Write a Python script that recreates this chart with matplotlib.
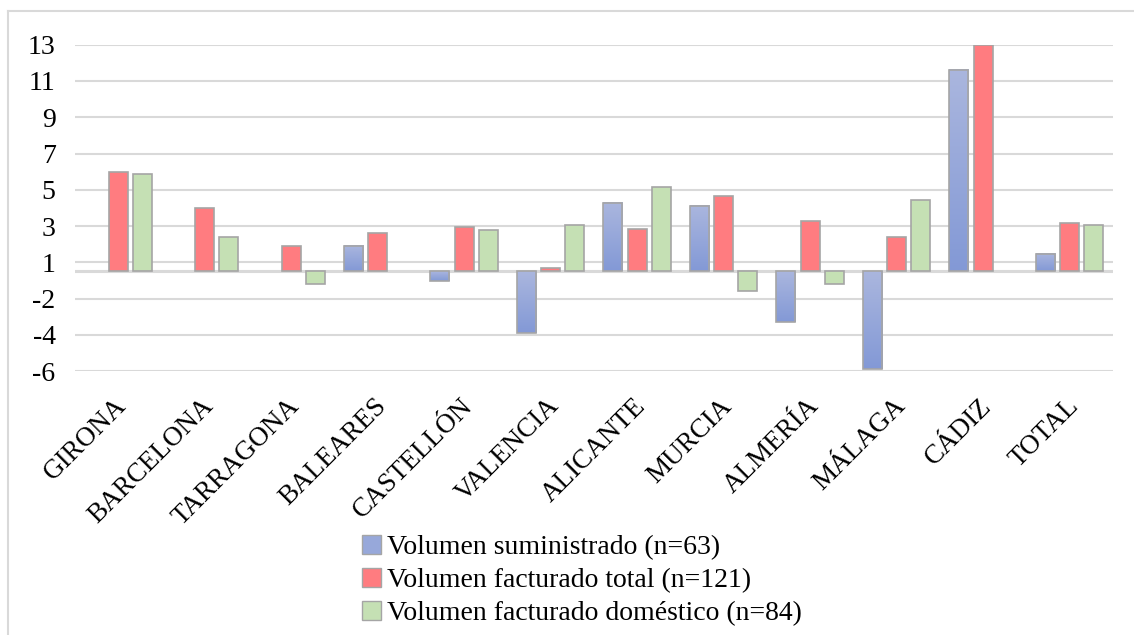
import numpy as np
import matplotlib.pyplot as plt
from matplotlib.patches import Patch
from matplotlib.lines import Line2D
from matplotlib.transforms import ScaledTranslation

# --- data
provincias = ['GIRONA', 'BARCELONA', 'TARRAGONA', 'BALEARES', 'CASTELLÓN', 'VALENCIA',
              'ALICANTE', 'MURCIA', 'ALMERÍA', 'MÁLAGA', 'CÁDIZ', 'TOTAL']
suministrado = [np.nan, np.nan, np.nan, 1.4, -0.55, -3.4, 3.8, 3.6, -2.8, -5.35, 11.1, 0.95]
fact_total = [5.5, 3.5, 1.4, 2.1, 2.45, 0.22, 2.35, 4.15, 2.8, 1.9, 12.5, 2.65]
fact_domestico = [5.4, 1.9, -0.7, np.nan, 2.3, 2.55, 4.65, -1.05, -0.7, 3.95, np.nan, 2.55]
series_labels = ['Volumen suministrado (n=63)',
                 'Volumen facturado total (n=121)',
                 'Volumen facturado doméstico (n=84)']
grid_vals = np.arange(-5.5, 12.6, 2.0)

plt.rcParams['font.family'] = ['Liberation Serif', 'DejaVu Serif']

fig = plt.figure(figsize=(11.34, 6.35), dpi=100)
ax = fig.add_axes([0.0661, 0.4153, 0.9153, 0.5143])

x = np.arange(len(provincias))
w = 0.22
off = 0.28
edge = '#a5a5a5'
red = '#ff7c80'
green = '#c5e0b4'
blue_top = np.array([0.667, 0.714, 0.871])
blue_bot = np.array([0.514, 0.600, 0.839])

ax.bar(x, fact_total, w, color=red, edgecolor=edge, linewidth=1.2, zorder=3)
ax.bar(x + off, fact_domestico, w, color=green, edgecolor=edge, linewidth=1.2, zorder=3)
bb = ax.bar(x - off, suministrado, w, facecolor='none', edgecolor=edge, linewidth=1.2, zorder=4)

# gradient fill for the first series
grad = np.linspace(0, 1, 64)[:, None, None]
grad_img = blue_top * (1 - grad) + blue_bot * grad
for rect in bb:
    h = rect.get_height()
    if np.isnan(h):
        continue
    x0 = rect.get_x()
    y0, y1 = sorted([rect.get_y(), rect.get_y() + h])
    ax.imshow(grad_img, extent=(x0, x0 + w, y0, y1), origin='upper',
              aspect='auto', zorder=3, interpolation='bilinear')

ax.set_xlim(-0.5, len(provincias) - 0.5)
ax.set_ylim(-5.5, 12.5)

# gridlines, labels rounded like the spreadsheet axis
def round_half_away(v):
    return int(np.sign(v) * np.floor(abs(v) + 0.5))

ax.set_yticks(grid_vals)
ax.set_yticklabels([str(round_half_away(v)) for v in grid_vals])
ax.yaxis.grid(True, color='#d9d9d9', linewidth=1.5, zorder=0)
ax.axhline(0, color='#d9d9d9', linewidth=2.2, zorder=2)
for s in ax.spines.values():
    s.set_visible(False)
ax.tick_params(axis='y', length=0, pad=14, labelsize=20)

ax.set_xticks(x)
ax.set_xticklabels(provincias, rotation=45, ha='right', rotation_mode='anchor')
ax.tick_params(axis='x', length=0, pad=16, labelsize=19.5)
shift = ScaledTranslation(-4 / 100, 0, fig.dpi_scale_trans)
for lbl in ax.get_xticklabels():
    lbl.set_transform(lbl.get_transform() + shift)

handles = [Patch(facecolor=tuple(blue_top * 0.5 + blue_bot * 0.5), edgecolor=edge),
           Patch(facecolor=red, edgecolor=edge),
           Patch(facecolor=green, edgecolor=edge)]
fig.legend(handles, series_labels, loc='center', bbox_to_anchor=(0.513, 0.086),
           ncol=1, frameon=False, fontsize=20, handlelength=0.7, handleheight=0.7,
           handletextpad=0.2, labelspacing=0.27, borderpad=0)

# chart area border
fig.add_artist(Line2D([8 / 1134, 8 / 1134], [0, 624 / 635], color='#d9d9d9', linewidth=1.5,
                      transform=fig.transFigure))
fig.add_artist(Line2D([8 / 1134, 1], [624 / 635, 624 / 635], color='#d9d9d9', linewidth=1.5,
                      transform=fig.transFigure))

fig.savefig('out.png', dpi=100)
